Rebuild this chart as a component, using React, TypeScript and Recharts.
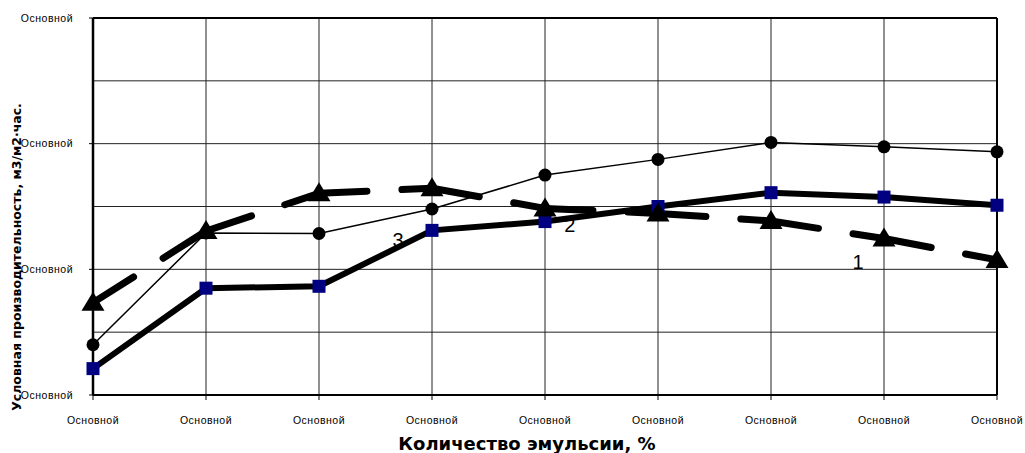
import { LineChart, Line, XAxis, YAxis, CartesianGrid, ReferenceLine, ReferenceDot, Label } from "recharts";

// categories along x (every tick reads the same in the source picture)
const categories = ["Основной", "Основной", "Основной", "Основной", "Основной", "Основной", "Основной", "Основной", "Основной"];
const yTicks = [0, 2, 4, 6];
const yTickLabels = ["Основной", "Основной", "Основной", "Основной"];
const minorGrid = [1, 3, 5];

// curve 1 - dashed, triangles
const series1 = [1.47, 2.61, 3.21, 3.29, 2.97, 2.89, 2.77, 2.49, 2.15];
// curve 2 - thick, squares
const series2 = [0.42, 1.7, 1.73, 2.62, 2.76, 3.0, 3.22, 3.15, 3.02];
// curve 3 - thin, circles
const series3 = [0.8, 2.58, 2.57, 2.96, 3.5, 3.75, 4.02, 3.95, 3.87];

const curveNames = ["1", "2", "3"];
const curveNameX = [6.77, 4.22, 2.7];
const curveNameY = [2.12, 2.71, 2.47];

const xTitle = "Количество эмульсии, %";
const yTitle = "Условная производительность, м3/м2·час.";

// the dashed curve restarts its dash pattern at every point, so each segment is its own series
const segments = series1.slice(0, -1).map((_, k) => `seg${k}`);

const data = categories.map((c, i) => {
  const row: Record<string, any> = { idx: i, label: c, s1: series1[i], s2: series2[i], s3: series3[i] };
  segments.forEach((key, k) => {
    row[key] = i === k || i === k + 1 ? series1[i] : null;
  });
  return row;
});

const tickStyle = { fontSize: 10.5, fill: "#000", fontFamily: "Liberation Sans", letterSpacing: 0.5 };

function Triangle(props: any) {
  const { cx, cy, index } = props;
  if (cx == null || cy == null) return null;
  return <polygon key={`t${index}`} points={`${cx},${cy - 11} ${cx - 11.5},${cy + 8} ${cx + 11.5},${cy + 8}`} fill="#000" />;
}

function Square(props: any) {
  const { cx, cy, index } = props;
  if (cx == null || cy == null) return null;
  return <rect key={`s${index}`} x={cx - 6.5} y={cy - 6.5} width={13} height={13} fill="#000080" />;
}

function Circle(props: any) {
  const { cx, cy, index } = props;
  if (cx == null || cy == null) return null;
  return <circle key={`c${index}`} cx={cx} cy={cy} r={6.5} fill="#000" />;
}

export default function App() {
  return (
    <div style={{ position: "absolute", left: 0, top: 0 }}>
      <LineChart width={1025} height={453} data={data} margin={{ top: 18, right: 28, bottom: 0, left: 0 }}>
        <CartesianGrid stroke="#222" strokeWidth={1} />
        {minorGrid.map((v) => (
          <ReferenceLine key={v} y={v} stroke="#222" strokeWidth={1} />
        ))}
        <ReferenceLine y={6} stroke="#000" strokeWidth={2} />
        <ReferenceLine x={8} stroke="#000" strokeWidth={2} />
        <XAxis
          dataKey="idx"
          type="number"
          domain={[0, 8]}
          ticks={categories.map((_, i) => i)}
          tickFormatter={(v: number) => categories[v]}
          height={58}
          tick={tickStyle}
          tickSize={5}
          tickMargin={17}
          stroke="#000"
          strokeWidth={2}
          tickLine={{ stroke: "#000", strokeWidth: 1 }}
          interval={0}
        >
          <Label
            content={() => (
              <text x={527} y={450} textAnchor="middle" fontFamily="DejaVu Sans" fontWeight="bold" fontSize={18} fill="#000">
                {xTitle}
              </text>
            )}
          />
        </XAxis>
        <YAxis
          type="number"
          domain={[0, 6]}
          ticks={yTicks}
          tickFormatter={(v: number) => yTickLabels[yTicks.indexOf(v)]}
          width={93}
          tick={tickStyle}
          tickSize={4}
          tickMargin={16}
          stroke="#000"
          strokeWidth={2.5}
          tickLine={{ stroke: "#000", strokeWidth: 1 }}
          interval={0}
        >
          <Label
            content={() => (
              <text
                x={0}
                y={0}
                transform="translate(21, 257) rotate(-90)"
                textAnchor="middle"
                fontFamily="DejaVu Sans"
                fontWeight="bold"
                fontSize={12.5}
                fill="#000"
              >
                {yTitle}
              </text>
            )}
          />
        </YAxis>
        {curveNames.map((n, i) => (
          <ReferenceDot
            key={n}
            x={curveNameX[i]}
            y={curveNameY[i]}
            r={0}
            fill="none"
            stroke="none"
            label={{ value: n, position: "center", fontSize: 20, fill: "#000", fontFamily: "Liberation Sans" }}
          />
        ))}
        <Line
          dataKey="s2"
          stroke="#000"
          strokeWidth={6}
          dot={Square}
          activeDot={false}
          isAnimationActive={false}
        />
        <Line
          dataKey="s3"
          stroke="#000"
          strokeWidth={1.5}
          dot={Circle}
          activeDot={false}
          isAnimationActive={false}
        />
        {segments.map((key) => (
          <Line
            key={key}
            dataKey={key}
            stroke="#000"
            strokeWidth={7}
            strokeDasharray="48 35"
            strokeLinecap="round"
            dot={false}
            activeDot={false}
            connectNulls={false}
            isAnimationActive={false}
          />
        ))}
        <Line
          dataKey="s1"
          stroke="none"
          dot={Triangle}
          activeDot={false}
          isAnimationActive={false}
        />
      </LineChart>
    </div>
  );
}
